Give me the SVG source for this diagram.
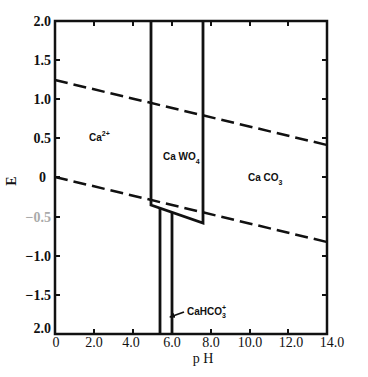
<svg xmlns="http://www.w3.org/2000/svg" width="368" height="377" viewBox="0 0 368 377">
<style>
.ax{fill:none;stroke:#111;stroke-width:2.5}
.tk{stroke:#111;stroke-width:2}
.bd{fill:none;stroke:#111;stroke-width:2.8;stroke-linejoin:miter}
.ds{fill:none;stroke:#111;stroke-width:2.5;stroke-dasharray:13 6}
.n{font-family:"Liberation Serif",serif;font-size:14px;font-weight:bold;fill:#111}
.nx{font-family:"Liberation Serif",serif;font-size:14px;fill:#111}
.lb{font-family:"Liberation Sans",sans-serif;font-size:10px;font-weight:bold;fill:#111}
</style>
<defs>
<marker id="ar" markerWidth="6" markerHeight="6" refX="5" refY="3" orient="auto" markerUnits="userSpaceOnUse"><path d="M0,0.5 L6,3 L0,5.5 z" fill="#111"/></marker>
</defs>
<rect width="368" height="377" fill="#fff"/>
<g id="axes">
<rect class="ax" x="55" y="21" width="272" height="313"/>
<path class="tk" d="M55,60h5M55,99h5M55,138h5M55,177h5M55,217h5M55,256h5M55,295h5"/>
<path class="tk" d="M327,60h-5M327,99h-5M327,138h-5M327,177h-5M327,217h-5M327,256h-5M327,295h-5"/>
<path class="tk" d="M94,334v-5M133,334v-5M172,334v-5M211,334v-5M250,334v-5M288,334v-5"/>
<path class="tk" d="M94,21v5M133,21v5M172,21v5M211,21v5M250,21v5M288,21v5"/>
</g>
<g id="ylabels" text-anchor="end">
<text class="n" x="51" y="26">2.0</text>
<text class="n" x="51" y="65">1.5</text>
<text class="n" x="51" y="104">1.0</text>
<text class="n" x="51" y="143">0.5</text>
<text class="n" x="46" y="182">0</text>
<text class="n" x="51" y="222" style="fill:#aaa">−0.5</text>
<text class="n" x="51" y="261">−1.0</text>
<text class="n" x="51" y="300">−1.5</text>
<text class="n" x="51" y="333">2.0</text>
</g>
<g id="xlabels" text-anchor="middle">
<text class="nx" x="56" y="347">0</text>
<text class="nx" x="94" y="347">2.0</text>
<text class="nx" x="131" y="347">4.0</text>
<text class="nx" x="172" y="347">6.0</text>
<text class="nx" x="211" y="347">8.0</text>
<text class="nx" x="250" y="347">10.0</text>
<text class="nx" x="291" y="347">12.0</text>
<text class="nx" x="332" y="347">14.0</text>
</g>
<text id="ylabel" class="n" transform="translate(16,181) rotate(-90)" text-anchor="middle">E</text>
<text id="xlabel" class="nx" x="203" y="363" text-anchor="middle" font-size="10">p H</text>
<g id="connectors">
<path class="ds" d="M55,80 L327,145"/>
<path class="ds" d="M55,177 L327,242"/>
<path class="bd" d="M151,21 V205 L203,223 V21"/>
<path class="bd" d="M160,208 V334"/>
<path class="bd" d="M172,212 V334"/>
<path d="M184,312 L170,317" stroke="#111" stroke-width="1.8" marker-end="url(#ar)"/>
</g>
<g id="ca2">
<text class="lb" x="89" y="141">Ca<tspan font-size="7" dy="-5">2+</tspan></text>
</g>
<g id="cawo4">
<text class="lb" x="163" y="160">Ca WO<tspan font-size="7" dy="4">4</tspan></text>
</g>
<g id="caco3">
<text class="lb" x="248" y="181">Ca CO<tspan font-size="7" dy="4">3</tspan></text>
</g>
<g id="cahco3">
<text class="lb" x="187" y="315" font-size="9.5">CaHCO<tspan font-size="7" dy="3">3</tspan><tspan font-size="7" dx="-4" dy="-8">+</tspan></text>
</g>
</svg>
